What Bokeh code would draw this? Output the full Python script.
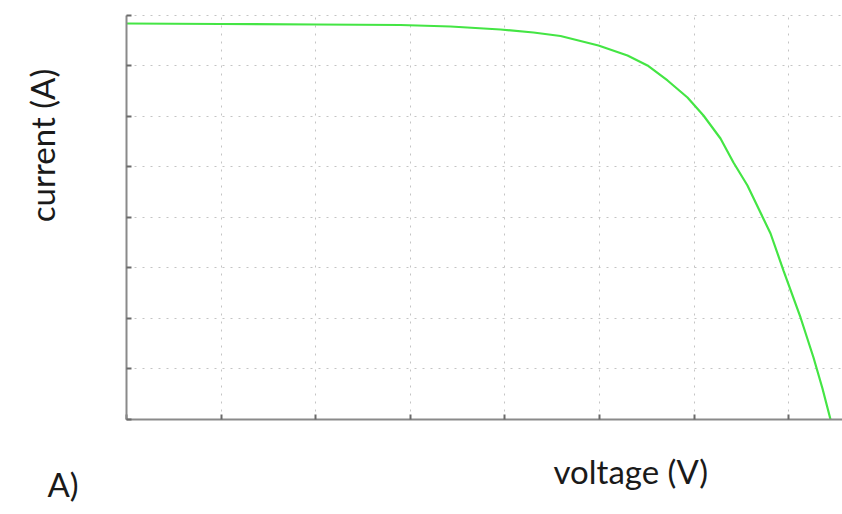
import math
from bokeh.plotting import figure
from bokeh.models import FixedTicker, Label, Range1d, Grid
from bokeh.embed import file_html
from bokeh.resources import INLINE

# I-V curve (arbitrary units, grid = 1 unit)
voltage = [0.000, 0.994, 2.008, 2.896, 3.425, 3.953, 4.302, 4.588, 4.989, 5.296,
           5.507, 5.719, 5.930, 6.099, 6.279, 6.416, 6.564, 6.681, 6.808, 6.945,
           7.125, 7.262, 7.357, 7.442]
current = [7.842, 7.832, 7.822, 7.812, 7.782, 7.723, 7.663, 7.594, 7.406, 7.208,
           7.010, 6.713, 6.376, 6.020, 5.564, 5.089, 4.634, 4.178, 3.683, 2.950,
           2.020, 1.228, 0.614, 0.000]
x_ticks = [0, 1, 2, 3, 4, 5, 6, 7]
y_ticks = [0, 1, 2, 3, 4, 5, 6, 7, 8]
x_max = 7.5687
y_max = 8
x_label = "voltage (V)"
y_label = "current (A)"
panel_label = "A)"

FONT = "Lato"

# the frame covers the whole canvas so the texts outside the plot area are not clipped
p = figure(width=842, height=514, output_backend="svg", toolbar_location=None,
           x_range=Range1d(-1.2474, x_max), y_range=Range1d(-1.7228, 8.297),
           min_border_left=8, min_border_right=0, min_border_top=0,
           min_border_bottom=8)
p.background_fill_color = "white"
p.border_fill_color = "white"
p.outline_line_color = None

p.xaxis.fixed_location = 0
p.yaxis.fixed_location = 0
p.xaxis.bounds = (0, x_max)
p.yaxis.bounds = (0, y_max)
for ax, ticks in ((p.xaxis, x_ticks), (p.yaxis, y_ticks)):
    ax.ticker = FixedTicker(ticks=ticks)
    ax.axis_line_color = "#8a8a8a"
    ax.axis_line_width = 2
    ax.major_tick_line_color = "#6a6a6a"
    ax.major_tick_line_width = 2
    ax.major_tick_in = 5
    ax.major_tick_out = 0
    ax.minor_tick_line_color = None
    ax.major_label_standoff = 0
    ax.major_label_text_font_size = "0px"
    ax.major_label_text_alpha = 0

grid_style = dict(line_color="#c4c4c4", line_dash="2 6", line_width=1)
if "cross_bounds" in Grid.properties():
    for g, b, cb in ((p.xgrid[0], (0, x_max), (0, y_max)),
                     (p.ygrid[0], (0, y_max), (0, x_max))):
        g.bounds = b
        g.cross_bounds = cb
        g.grid_line_color = grid_style["line_color"]
        g.grid_line_dash = grid_style["line_dash"]
        g.grid_line_width = grid_style["line_width"]
else:
    p.xgrid.visible = False
    p.ygrid.visible = False
    p.multi_line([[t, t] for t in x_ticks], [[0, y_max] for t in x_ticks],
                 level="underlay", **grid_style)
    p.multi_line([[0, x_max] for t in y_ticks], [[t, t] for t in y_ticks],
                 level="underlay", **grid_style)

p.line(voltage, current, line_color="#44e544", line_width=2.2)

common = dict(text_font=FONT, text_font_size="33px", text_color="#1a1a1a")
p.add_layout(Label(x=4.514, y=-1.010, text=x_label, text_baseline="alphabetic",
                   text_align="left", **common))
p.add_layout(Label(x=-0.898, y=5.426, text=y_label, angle=math.pi / 2,
                   text_baseline="middle", text_align="center", **common))
p.add_layout(Label(x=-0.835, y=-1.268, text=panel_label, text_baseline="alphabetic",
                   text_align="left", **common))

open("out.html", "w").write(file_html(p, INLINE))
